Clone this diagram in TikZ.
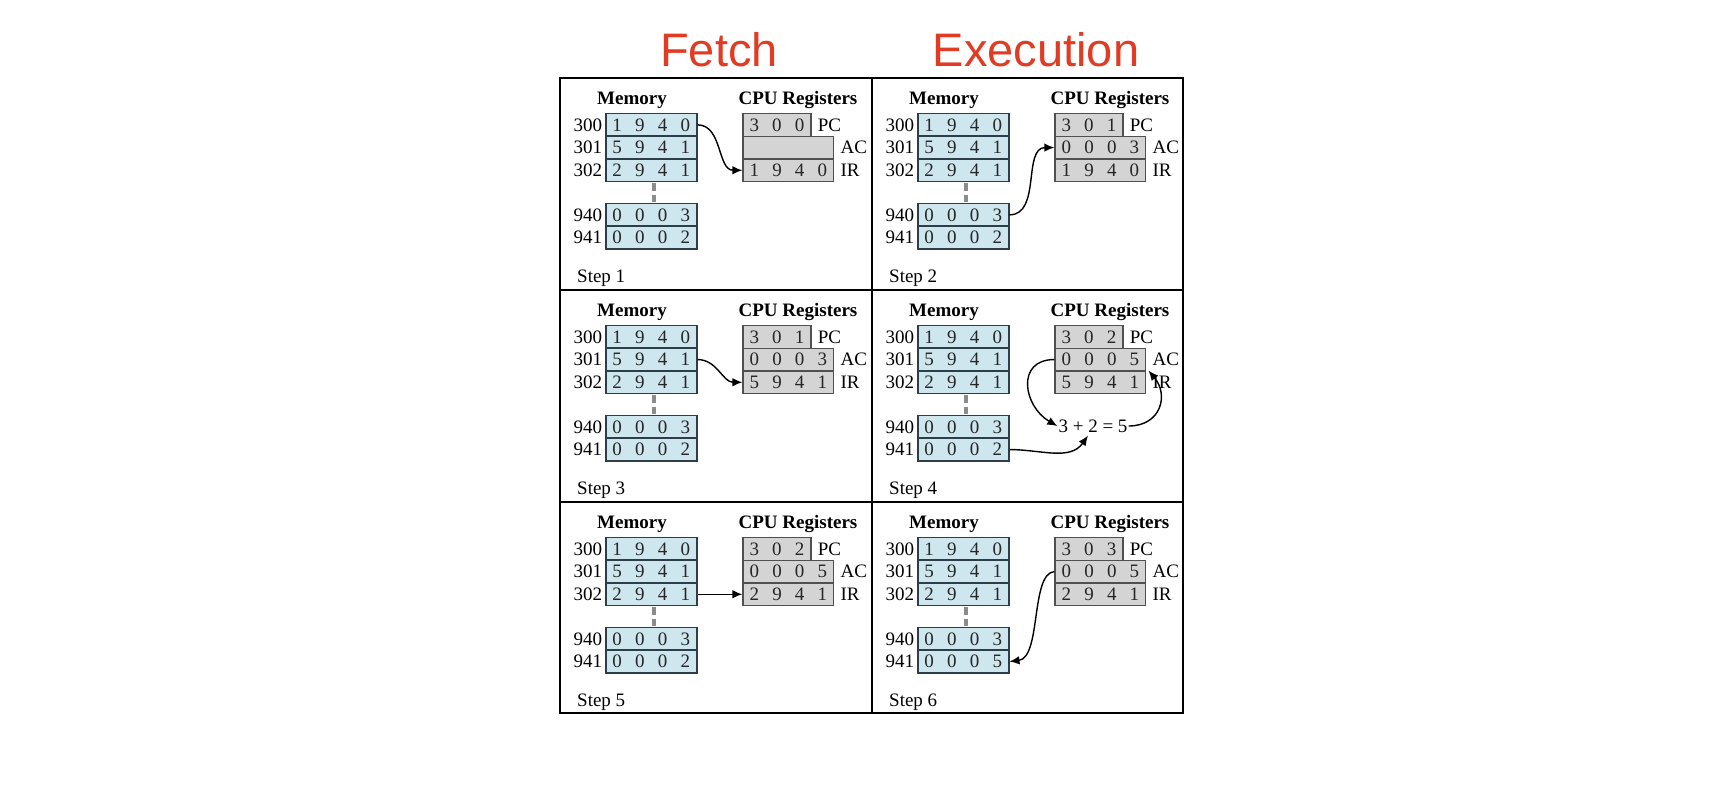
\documentclass[tikz,border=0pt]{standalone}
\usepackage{fontspec}
\setmainfont{Liberation Serif}
\newfontfamily\titlefont{Liberation Sans}
\usetikzlibrary{arrows.meta}
\definecolor{memfill}{RGB}{206,230,238}
\definecolor{memline}{RGB}{45,62,72}
\definecolor{regfill}{RGB}{212,212,212}
\definecolor{regline}{RGB}{80,80,80}
\definecolor{titlered}{RGB}{225,60,35}
\definecolor{dashgray}{RGB}{140,140,140}
\def\dg#1{\ifx#1\relax\else\makebox[22.7pt]{#1}\expandafter\dg\fi}
\newcommand\dgfont{\fontsize{19}{22}\selectfont}
\tikzset{
  mem/.style={draw=memline, fill=memfill, line width=1.6pt, minimum width=91pt, minimum height=22.7pt, inner sep=0pt, font=\dgfont, text=black!85},
  reg3/.style={draw=regline, fill=regfill, line width=1.3pt, minimum width=68.1pt, minimum height=22.7pt, inner sep=0pt, font=\dgfont, text=black!85},
  reg4/.style={reg3, minimum width=90.8pt},
  ttl/.style={anchor=base, inner sep=0pt, font=\dgfont\bfseries},
  addr/.style={anchor=east, inner sep=0pt, font=\dgfont},
  rlbl/.style={anchor=west, inner sep=0pt, font=\dgfont},
  steplbl/.style={anchor=base west, inner sep=0pt, font=\dgfont},
  dashline/.style={draw=dashgray, line width=4.5pt, dash pattern=on 8pt off 4pt},
  arr/.style={-{Latex[length=10pt,width=8.5pt]}, line width=1.4pt},
  frame/.style={line width=2.6pt},
  bigtitle/.style={anchor=base, inner sep=0pt, text=titlered, font=\titlefont\fontsize{47}{52}\selectfont}
}
\newcommand\cpupanel[8]{%
\begin{scope}[shift={(#2,#3)}]
\node[ttl] (#1memt) at (72,26.3) {Memory};
\node[ttl] (#1cput) at (238,26.3) {CPU Registers};
\node[mem] (#1m300) at (91.2,46.85) {\dg 1940\relax};
\node[mem] (#1m301) at (91.2,69.55) {\dg 5941\relax};
\node[mem] (#1m302) at (91.2,92.25) {\dg 2941\relax};
\node[mem] (#1m940) at (91.2,136.85) {\dg 0003\relax};
\node[mem] (#1m941) at (91.2,159.55) {\dg #8\relax};
\draw[dashline] ([xshift=3pt,yshift=-1pt]#1m302.south) -- ([xshift=3pt,yshift=1pt]#1m940.north);
\node[addr] (#1a300) at ([xshift=-2.5pt]#1m300.west) {300};
\node[addr] (#1a301) at ([xshift=-2.5pt]#1m301.west) {301};
\node[addr] (#1a302) at ([xshift=-2.5pt]#1m302.west) {302};
\node[addr] (#1a940) at ([xshift=-2.5pt]#1m940.west) {940};
\node[addr] (#1a941) at ([xshift=-2.5pt]#1m941.west) {941};
\node[reg3] (#1pc) at (217,46.85) {\dg #5\relax};
\node[reg4] (#1ac) at (228.4,69.55) {\dg #6\relax};
\node[reg4] (#1ir) at (228.4,92.25) {\dg #7\relax};
\node[rlbl] (#1pcl) at ([xshift=6pt]#1pc.east) {PC};
\node[rlbl] (#1acl) at ([xshift=6pt]#1ac.east) {AC};
\node[rlbl] (#1irl) at ([xshift=6pt]#1ir.east) {IR};
\node[steplbl] (#1step) at (17,204) {Step #4};
\end{scope}}
\begin{document}
\begin{tikzpicture}[x=1pt,y=-1pt]
\useasboundingbox (0,0) rectangle (1714,790);
\fill[white] (0,0) rectangle (1714,790);
\node[bigtitle] (fetch) at (719,66) {Fetch};
\node[bigtitle] (exec) at (1036,66) {Execution};

\cpupanel{p1}{560}{78}{1}{300}{}{1940}{0002}
\cpupanel{p2}{872}{78}{2}{301}{0003}{1940}{0002}
\cpupanel{p3}{560}{290}{3}{301}{0003}{5941}{0002}
\cpupanel{p4}{872}{290}{4}{302}{0005}{5941}{0002}
\cpupanel{p5}{560}{502}{5}{302}{0005}{2941}{0002}
\cpupanel{p6}{872}{502}{6}{303}{0005}{2941}{0005}

\draw[frame] (560,78) rectangle (1183,713);
\draw[frame] (872,78) -- (872,713);
\draw[frame] (560,290) -- (1183,290);
\draw[frame] (560,502) -- (1183,502);

\node[inner sep=1pt, font=\dgfont] (p4sum) at (1093,426) {3 + 2 = 5};

\draw[arr] (p1m300.east) to[out=0,in=180] (p1ir.west);
\draw[arr] (p2m940.east) to[out=0,in=180] (p2ac.west);
\draw[arr] (p3m301.east) to[out=0,in=180] (p3ir.west);
\draw[arr] (p4ac.west) to[out=180,in=150,looseness=1.5] (p4sum.west);
\draw[arr] (p4m941.east) to[out=0,in=235] ([xshift=-5pt,yshift=-2pt]p4sum.south);
\draw[arr] (p4sum.east) to[out=0,in=-50,looseness=1.4] ([xshift=2pt,yshift=1pt]p4ac.south east);
\draw[arr] (p5m302.east) -- (p5ir.west);
\draw[arr] (p6ac.west) .. controls +(-24,2) and +(32,-4) .. (p6m941.east);
\end{tikzpicture}
\end{document}
